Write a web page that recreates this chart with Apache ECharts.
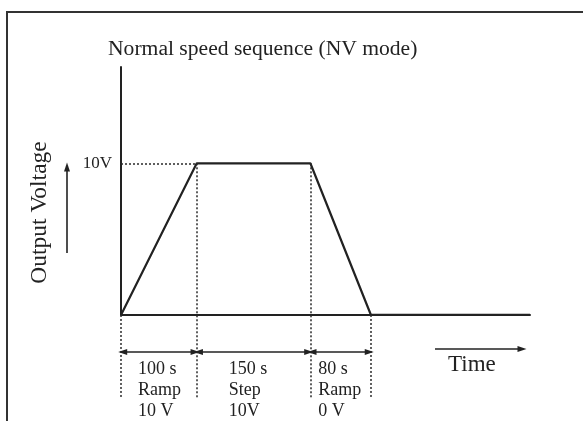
<!DOCTYPE html>
<html>
<head>
<meta charset="utf-8">
<script src="https://cdn.jsdelivr.net/npm/echarts@6/dist/echarts.min.js"></script>
<style>
  html, body { margin: 0; padding: 0; background: #fff; }
  #chart { width: 583px; height: 421px; }
</style>
</head>
<body>
<div id="chart"></div>
<script>
// Normal speed sequence (NV mode): ramp up, hold, ramp down.
const phaseDurations = [100, 150, 80];          // seconds
const phaseTimeLabels = ['100 s', '150 s', '80 s'];
const phaseKinds = ['Ramp', 'Step', 'Ramp'];
const phaseTargets = ['10 V', '10V', '0 V'];
const profileVoltage = [0, 10, 10, 0];          // volts at each phase boundary
const timeEnd = 540;                            // end of the time axis, s
const voltageMax = 16.4;
const voltageMin = -5.5;                        // room below the time axis for phase notes
const voltageTickLabels = [10];

// Phase boundaries in seconds
const boundaries = [0];
phaseDurations.forEach(d => boundaries.push(boundaries[boundaries.length - 1] + d));

const profile = boundaries.map((t, i) => [t, profileVoltage[i]]);
profile.push([timeEnd, 0]);

const INK = '#222';
const SERIF = '"Liberation Serif", "DejaVu Serif", serif';
const dimLevel = -2.44;                         // voltage level of the dimension arrows

const dotted = { type: [2, 2], width: 1.5, color: '#2a2a2a' };

// Dotted guides: from the hold level / axis down past the phase notes
const guideLines = boundaries.map((t, i) => [
  { coord: [t, profileVoltage[i]] },
  { coord: [t, voltageMin] }
]);
guideLines.push([{ coord: [0, profileVoltage[1]] }, { coord: [boundaries[1], profileVoltage[1]] }]);

// Double-headed dimension arrows for each phase
const dimArrows = phaseDurations.map((d, i) => [
  { coord: [boundaries[i] + 2.2, dimLevel] },
  { coord: [boundaries[i + 1] - 2.2, dimLevel] }
]);

const textOffsets = [17, 32, 8];                // px from the phase start to the text column

const chart = echarts.init(document.getElementById('chart'), null, { renderer: 'canvas' });

chart.setOption({
  animation: false,
  backgroundColor: '#fff',
  title: {
    text: 'Normal speed sequence (NV mode)',
    left: 108,
    top: 38,
    padding: 0,
    textStyle: { fontFamily: SERIF, fontSize: 21.6, fontWeight: 'normal', color: INK }
  },
  grid: { left: 121, top: 66.2, width: 409, height: 332.2, containLabel: false },
  xAxis: {
    type: 'value',
    min: 0,
    max: timeEnd,
    axisLine: { show: true, onZero: true, lineStyle: { color: INK, width: 2 } },
    axisTick: { show: false },
    axisLabel: { show: false },
    splitLine: { show: false }
  },
  yAxis: {
    type: 'value',
    min: voltageMin,
    max: voltageMax,
    axisLine: { show: false },
    axisTick: { show: false },
    splitLine: { show: false },
    axisLabel: {
      customValues: voltageTickLabels,
      formatter: v => v + 'V',
      margin: 9,
      fontFamily: SERIF,
      fontSize: 17,
      color: INK
    }
  },
  series: [
    {
      name: 'Voltage axis',
      type: 'line',
      data: [[0, 0], [0, voltageMax]],
      symbol: 'none',
      silent: true,
      lineStyle: { color: INK, width: 2 }
    },
    {
      name: 'Output Voltage',
      type: 'line',
      data: profile,
      symbol: 'none',
      lineStyle: { color: INK, width: 2.2 },
      z: 3,
      markLine: {
        silent: true,
        symbol: 'none',
        label: { show: false },
        lineStyle: dotted,
        data: guideLines
      }
    },
    {
      name: 'Phase durations',
      type: 'line',
      data: [],
      markLine: {
        silent: true,
        symbol: ['triangle', 'triangle'],
        symbolSize: [6, 9],
        label: { show: false },
        lineStyle: { type: 'solid', width: 1.6, color: INK },
        data: dimArrows
      }
    },
    {
      name: 'Axis arrows',
      type: 'line',
      data: [],
      markLine: {
        silent: true,
        symbol: ['none', 'triangle'],
        symbolSize: [6, 9],
        label: { show: false },
        lineStyle: { type: 'solid', width: 1.6, color: INK },
        data: [
          [{ x: 435, y: 349 }, { x: 522, y: 349 }],
          [{ x: 67, y: 253 }, { x: 67, y: 167 }]
        ]
      }
    },
    {
      name: 'Phase notes',
      type: 'custom',
      silent: true,
      data: phaseDurations.map((d, i) => [boundaries[i], boundaries[i + 1], i]),
      renderItem: function (params, api) {
        const i = api.value(2);
        const p = api.coord([api.value(0), 0]);
        const x = p[0] + textOffsets[i];
        const lines = [phaseTimeLabels[i], phaseKinds[i], phaseTargets[i]];
        const ys = [369.5, 390.5, 411];
        return {
          type: 'group',
          children: lines.map((s, k) => ({
            type: 'text',
            style: {
              text: s, x: x, y: ys[k],
              fill: INK, font: '18px ' + SERIF,
              textAlign: 'left', textVerticalAlign: 'middle'
            }
          }))
        };
      }
    }
  ],
  graphic: [
    {
      type: 'polyline',
      shape: { points: [[7, 421], [7, 12], [583, 12]] },
      style: { stroke: '#333', lineWidth: 2, fill: null }
    },
    {
      type: 'text',
      x: 40, y: 212.5,
      rotation: Math.PI / 2,
      style: {
        text: 'Output Voltage', fill: INK, font: '23.5px ' + SERIF,
        textAlign: 'center', textVerticalAlign: 'middle'
      }
    },
    {
      type: 'text',
      x: 448, y: 365,
      style: {
        text: 'Time', fill: INK, font: '23px ' + SERIF,
        textAlign: 'left', textVerticalAlign: 'middle'
      }
    }
  ]
});
</script>
</body>
</html>
